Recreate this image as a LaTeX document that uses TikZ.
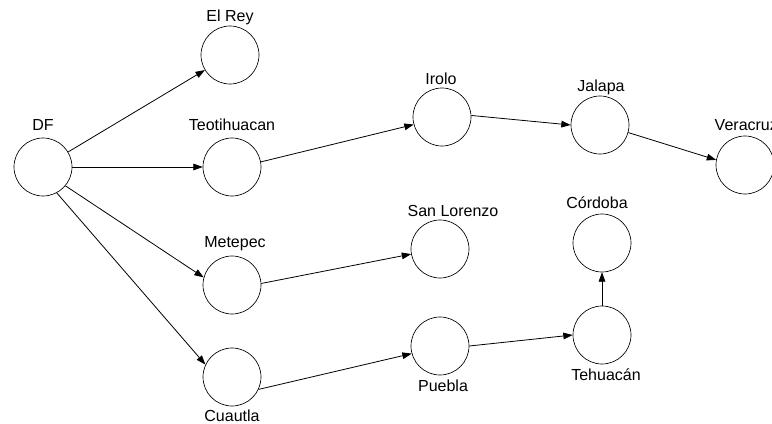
\documentclass[tikz,border=0pt]{standalone}
\usepackage{fontspec}
\setmainfont{Liberation Sans}
\usetikzlibrary{arrows.meta}

\begin{document}
\begin{tikzpicture}[
      x=0.75pt, y=-0.75pt,
      font=\fontsize{12}{14}\selectfont,
      town/.style={draw, circle, minimum size=43.5pt, inner sep=0pt, line width=0.5pt},
      placename/.style={inner sep=1pt},
      >={Triangle[length=7pt,width=5pt]}, line width=0.6pt
    ]
    \useasboundingbox (0,0) rectangle (772,424);

    % --- towns ---------------------------------------------------------------
    \node[town] (df)   at ( 43,167) {};
    \node[town] (rey)  at (230, 55) {};
    \node[town] (teo)  at (232,167) {};
    \node[town] (met)  at (232,285) {};
    \node[town] (cua)  at (232,377) {};
    \node[town] (iro)  at (442,117) {};
    \node[town] (jal)  at (600,125) {};
    \node[town] (ver)  at (745,165) {};
    \node[town] (slo)  at (440,249) {};
    \node[town] (cor)  at (602,243) {};
    \node[town] (pue)  at (440,346) {};
    \node[town] (teh)  at (602,335) {};

    % --- town names ----------------------------------------------------------
    \node[placename] (dfl)  at ( 43,125) {DF};
    \node[placename] (reyl) at (230, 17) {El Rey};
    \node[placename] (teol) at (232,125) {Teotihuacan};
    \node[placename] (metl) at (235,244) {Metepec};
    \node[placename] (cual) at (232,416) {Cuautla};
    \node[placename] (irol) at (441, 79) {Irolo};
    \node[placename] (jall) at (601, 87) {Jalapa};
    \node[placename, anchor=west] (verl) at (713,125) {Veracruz};
    \node[placename] (slol) at (453,211) {San Lorenzo};
    \node[placename] (corl) at (597,203) {Córdoba};
    \node[placename] (puel) at (443,386) {Puebla};
    \node[placename] (tehl) at (606,375) {Tehuacán};

    % --- out of DF -------------------------------------------------------------
    \draw[->] (df) -- (rey);
    \draw[->] (df) -- (teo);
    \draw[->] (df.-40) -- (met.165);
    \draw[->] (df.-62) -- (cua.155);

    % --- northern road -----------------------------------------------------------
    \draw[->] (teo.10) -- (iro.195);
    \draw[->] (iro.3) -- (jal.180);
    \draw[->] (jal.-15) -- (ver.170);

    % --- southern roads --------------------------------------------------------
    \draw[->] (met.3) -- (slo.190);
    \draw[->] (cua.-25) -- (pue.195);
    \draw[->] (pue.east) -- (teh.west);
    \draw[->] (teh.north) -- (cor.south);
  \end{tikzpicture}
\end{document}
